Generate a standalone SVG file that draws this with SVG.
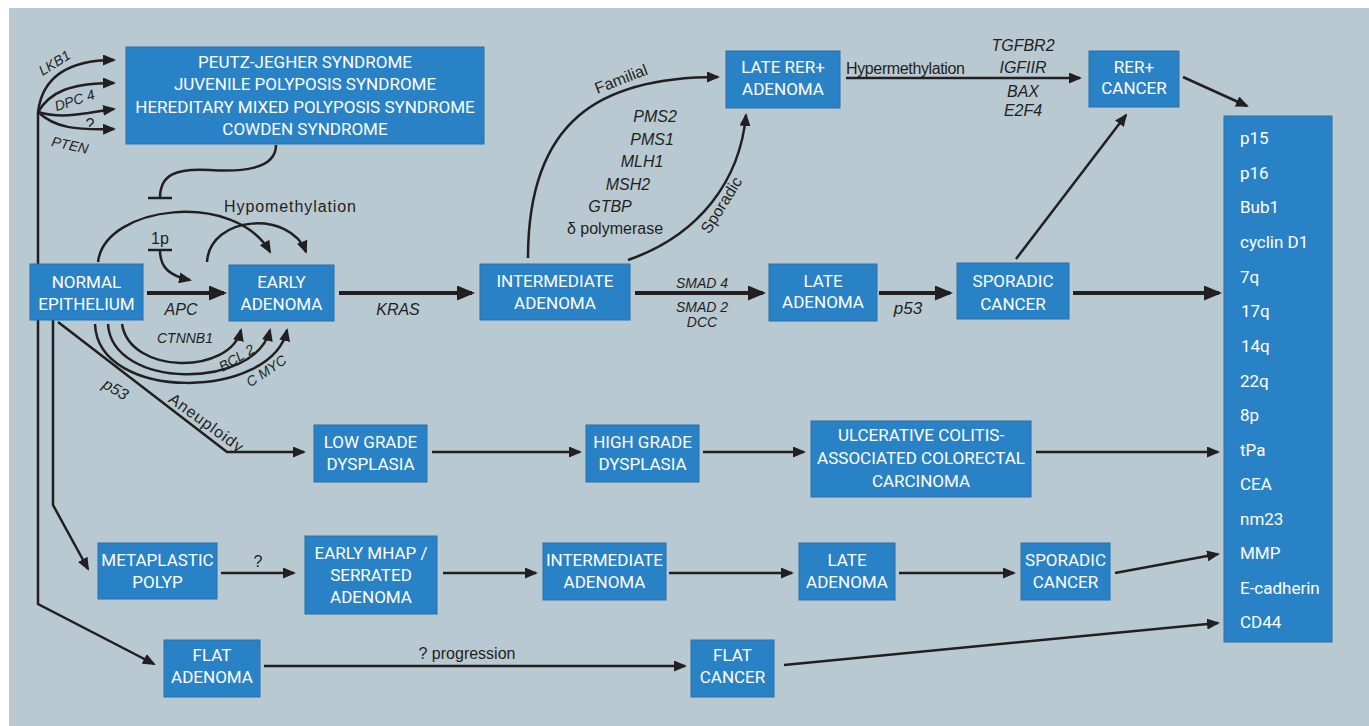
<svg xmlns="http://www.w3.org/2000/svg" width="1369" height="726" viewBox="0 0 1369 726">
<style>
.bg{fill:#b9c9d1}
.box{fill:#2a82c6;stroke:#2470ae;stroke-width:1}
.bt{font-family:Roboto,"Liberation Sans",Arial,sans-serif;font-weight:400;font-size:17px;fill:#ffffff;text-anchor:middle}
.ct{font-family:Roboto,"Liberation Sans",Arial,sans-serif;font-weight:400;font-size:17px;fill:#ffffff}
.ln{fill:none;stroke:#231f20;stroke-width:2.5}
.tk{fill:none;stroke:#231f20;stroke-width:3.8}
.lb{font-family:"Liberation Sans",Arial,sans-serif;font-size:16px;fill:#231f20}
.it{font-family:"Liberation Sans",Arial,sans-serif;font-style:italic;fill:#231f20}
.mid{text-anchor:middle}
</style>
<defs>
<marker id="big" markerUnits="userSpaceOnUse" viewBox="0 0 18 15" markerWidth="18" markerHeight="15" refX="15" refY="7.5" orient="auto"><path d="M0,0 L18,7.5 L0,15 z" fill="#231f20"/></marker>
<marker id="sm" markerUnits="userSpaceOnUse" viewBox="0 0 13 11" markerWidth="13" markerHeight="11" refX="11" refY="5.5" orient="auto"><path d="M0,0 L13,5.5 L0,11 z" fill="#231f20"/></marker>
</defs>
<rect x="9" y="8" width="1360" height="718" class="bg"/>

<g id="connectors">
<path class="ln" d="M38,264 L38,112"/>
<path class="ln" d="M38,112 C42,80 65,60 114,60" marker-end="url(#sm)"/>
<path class="ln" d="M38,112 C50,92 70,83 114,83" marker-end="url(#sm)"/>
<path class="ln" d="M38,112 C65,120 90,112 114,109" marker-end="url(#sm)"/>
<path class="ln" d="M38,112 C55,128 75,130 114,129" marker-end="url(#sm)"/>
<path class="ln" d="M276,145 C276,170 240,172 210,170 C175,168 160,175 160,198"/>
<path class="ln" stroke-width="3" d="M148,198 L172,198"/>
<path class="ln" d="M98,262 C105,205 235,190 270,252" marker-end="url(#sm)"/>
<path class="ln" d="M207,262 C210,215 290,210 306,252" marker-end="url(#sm)"/>
<path class="ln" stroke-width="3" d="M148,250 L172,250"/>
<path class="ln" d="M160,250 C160,268 170,276 190,280" marker-end="url(#sm)"/>
<path class="tk" d="M147,293 L224,293" marker-end="url(#big)"/>
<path class="tk" d="M339,293 L472,293" marker-end="url(#big)"/>
<path class="tk" d="M635,293 L763,293" marker-end="url(#big)"/>
<path class="tk" d="M879,293 L950,293" marker-end="url(#big)"/>
<path class="tk" d="M1073,293 L1219,293" marker-end="url(#big)"/>
<path class="ln" d="M1016,259 L1126,115" marker-end="url(#sm)"/>
<path class="ln" stroke-width="3" d="M846,78 L1080,78" marker-end="url(#sm)"/>
<path class="ln" d="M1183,77 L1247,106" marker-end="url(#sm)"/>
<path class="ln" stroke-width="3" d="M528,258 C528,120 600,77 718,77" marker-end="url(#sm)"/>
<path class="ln" stroke-width="3" d="M628,260 C700,235 740,180 746,115" marker-end="url(#sm)"/>
<path class="ln" d="M122,324 C130,375 230,375 241,330" marker-end="url(#sm)"/>
<path class="ln" d="M108,324 C112,390 255,390 270,330" marker-end="url(#sm)"/>
<path class="ln" d="M95,324 C98,403 272,400 287,330" marker-end="url(#sm)"/>
<path class="ln" d="M58,322 L227,452 L304,452" marker-end="url(#sm)"/>
<path class="ln" d="M53,320 L53,505 L88,569" marker-end="url(#sm)"/>
<path class="ln" d="M38,320 L38,604 L154,664" marker-end="url(#sm)"/>
<path class="ln" d="M432,452 L580,452" marker-end="url(#sm)"/>
<path class="ln" d="M703,452 L804,452" marker-end="url(#sm)"/>
<path class="ln" d="M1036,452 L1218,452" marker-end="url(#sm)"/>
<path class="ln" d="M221,573 L294,573" marker-end="url(#sm)"/>
<path class="ln" d="M443,573 L536,573" marker-end="url(#sm)"/>
<path class="ln" d="M669,573 L792,573" marker-end="url(#sm)"/>
<path class="ln" d="M899,573 L1014,573" marker-end="url(#sm)"/>
<path class="ln" d="M1115,573 L1218,554" marker-end="url(#sm)"/>
<path class="ln" d="M264,666 L685,666" marker-end="url(#sm)"/>
<path class="ln" d="M784,665 L1218,623" marker-end="url(#sm)"/>
</g>

<g id="labels">
<text class="it" font-size="14" text-anchor="middle" transform="translate(57,67) rotate(-32)">LKB1</text>
<text class="it" font-size="14" text-anchor="middle" transform="translate(76,105) rotate(-18)">DPC 4</text>
<text class="lb" font-size="14" text-anchor="middle" x="90" y="130">?</text>
<text class="it" font-size="14" text-anchor="middle" transform="translate(69,150) rotate(12)">PTEN</text>
<text class="lb" x="224" y="212" textLength="132">Hypomethylation</text>
<text class="lb mid" font-size="14" x="160" y="244">1p</text>
<text class="it mid" font-size="16" x="181" y="315">APC</text>
<text class="it mid" font-size="16" x="398" y="315">KRAS</text>
<text class="it mid" font-size="14" x="185" y="343">CTNNB1</text>
<text class="it mid" font-size="14" transform="translate(239,362) rotate(-31)">BCL 2</text>
<text class="it mid" font-size="14" transform="translate(269,375) rotate(-34)">C MYC</text>
<text class="it mid" font-size="16" transform="translate(113,394) rotate(30)">p53</text>
<text class="lb mid" transform="translate(203,427) rotate(36)" textLength="88">Aneuploidy</text>
<text class="lb mid" font-size="14" transform="translate(623,84) rotate(-21)">Familial</text>
<text class="lb mid" font-size="14" transform="translate(726,208) rotate(-58)">Sporadic</text>
<text class="it mid" font-size="16" x="655" y="122">PMS2</text>
<text class="it mid" font-size="16" x="652" y="145">PMS1</text>
<text class="it mid" font-size="16" x="642" y="167">MLH1</text>
<text class="it mid" font-size="16" x="628" y="190">MSH2</text>
<text class="it mid" font-size="16" x="610" y="212">GTBP</text>
<text class="lb mid" x="615" y="234">δ polymerase</text>
<text class="lb" font-size="15" x="846" y="74" textLength="119">Hypermethylation</text>
<text class="it mid" font-size="16" x="1023" y="51">TGFBR2</text>
<text class="it mid" font-size="16" x="1023" y="73">IGFIIR</text>
<text class="it mid" font-size="16" x="1023" y="97">BAX</text>
<text class="it mid" font-size="16" x="1023" y="116">E2F4</text>
<text class="it mid" font-size="14" x="702" y="288">SMAD 4</text>
<text class="it mid" font-size="14" x="702" y="312">SMAD 2</text>
<text class="it mid" font-size="14" x="702" y="327">DCC</text>
<text class="it mid" font-size="17" x="908" y="314">p53</text>
<text class="lb mid" font-size="14" x="258" y="567">?</text>
<text class="lb mid" x="467" y="659">? progression</text>
</g>

<g id="n-syndromes"><rect class="box" x="126" y="47" width="358" height="97"/>
<text class="bt" x="305" y="68">PEUTZ-JEGHER SYNDROME</text>
<text class="bt" x="305" y="90">JUVENILE POLYPOSIS SYNDROME</text>
<text class="bt" x="305" y="113">HEREDITARY MIXED POLYPOSIS SYNDROME</text>
<text class="bt" x="305" y="135">COWDEN SYNDROME</text></g>
<g id="n-normal"><rect class="box" x="30" y="264" width="113" height="56"/>
<text class="bt" x="86.5" y="288">NORMAL</text><text class="bt" x="86.5" y="310">EPITHELIUM</text></g>
<g id="n-early"><rect class="box" x="229" y="265" width="105" height="56"/>
<text class="bt" x="281.5" y="288">EARLY</text><text class="bt" x="281.5" y="310">ADENOMA</text></g>
<g id="n-intermediate"><rect class="box" x="480" y="264" width="150" height="56"/>
<text class="bt" x="555" y="287">INTERMEDIATE</text><text class="bt" x="555" y="309">ADENOMA</text></g>
<g id="n-late-rer"><rect class="box" x="726" y="51" width="114" height="57"/>
<text class="bt" x="783" y="73">LATE RER+</text><text class="bt" x="783" y="95">ADENOMA</text></g>
<g id="n-rer-cancer"><rect class="box" x="1089" y="51" width="90" height="56"/>
<text class="bt" x="1134" y="73">RER+</text><text class="bt" x="1134" y="94">CANCER</text></g>
<g id="n-late"><rect class="box" x="769" y="264" width="108" height="57"/>
<text class="bt" x="823" y="287">LATE</text><text class="bt" x="823" y="308">ADENOMA</text></g>
<g id="n-sporadic"><rect class="box" x="957" y="263" width="112" height="56"/>
<text class="bt" x="1013" y="287">SPORADIC</text><text class="bt" x="1013" y="310">CANCER</text></g>
<g id="n-markers"><rect class="box" x="1224" y="116" width="108" height="526"/>
<text class="ct" x="1240" y="144">p15</text>
<text class="ct" x="1240" y="179">p16</text>
<text class="ct" x="1240" y="213">Bub1</text>
<text class="ct" x="1240" y="248">cyclin D1</text>
<text class="ct" x="1240" y="283">7q</text>
<text class="ct" x="1241" y="317">17q</text>
<text class="ct" x="1241" y="352">14q</text>
<text class="ct" x="1240" y="387">22q</text>
<text class="ct" x="1240" y="421">8p</text>
<text class="ct" x="1240" y="456">tPa</text>
<text class="ct" x="1240" y="490">CEA</text>
<text class="ct" x="1240" y="525">nm23</text>
<text class="ct" x="1240" y="559">MMP</text>
<text class="ct" x="1240" y="594">E-cadherin</text>
<text class="ct" x="1240" y="628">CD44</text></g>
<g id="n-low"><rect class="box" x="314" y="425" width="113" height="57"/>
<text class="bt" x="370.5" y="448">LOW GRADE</text><text class="bt" x="370.5" y="470">DYSPLASIA</text></g>
<g id="n-high"><rect class="box" x="586" y="425" width="113" height="57"/>
<text class="bt" x="642.5" y="448">HIGH GRADE</text><text class="bt" x="642.5" y="470">DYSPLASIA</text></g>
<g id="n-uc"><rect class="box" x="811" y="421" width="220" height="76"/>
<text class="bt" x="921" y="441">ULCERATIVE COLITIS-</text>
<text class="bt" x="921" y="464">ASSOCIATED COLORECTAL</text>
<text class="bt" x="921" y="487">CARCINOMA</text></g>
<g id="n-metaplastic"><rect class="box" x="98" y="543" width="119" height="56"/>
<text class="bt" x="157.5" y="566">METAPLASTIC</text><text class="bt" x="157.5" y="588">POLYP</text></g>
<g id="n-mhap"><rect class="box" x="305" y="536" width="132" height="78"/>
<text class="bt" x="371" y="559">EARLY MHAP /</text><text class="bt" x="371" y="581">SERRATED</text><text class="bt" x="371" y="603">ADENOMA</text></g>
<g id="n-intermediate2"><rect class="box" x="543" y="543" width="123" height="57"/>
<text class="bt" x="604.5" y="566">INTERMEDIATE</text><text class="bt" x="604.5" y="588">ADENOMA</text></g>
<g id="n-late2"><rect class="box" x="799" y="543" width="96" height="57"/>
<text class="bt" x="847" y="566">LATE</text><text class="bt" x="847" y="588">ADENOMA</text></g>
<g id="n-sporadic2"><rect class="box" x="1021" y="543" width="89" height="57"/>
<text class="bt" x="1065.5" y="566">SPORADIC</text><text class="bt" x="1065.5" y="588">CANCER</text></g>
<g id="n-flat-adenoma"><rect class="box" x="164" y="640" width="96" height="57"/>
<text class="bt" x="212" y="661">FLAT</text><text class="bt" x="212" y="683">ADENOMA</text></g>
<g id="n-flat-cancer"><rect class="box" x="691" y="640" width="83" height="57"/>
<text class="bt" x="732.5" y="661">FLAT</text><text class="bt" x="732.5" y="683">CANCER</text></g>
</svg>
